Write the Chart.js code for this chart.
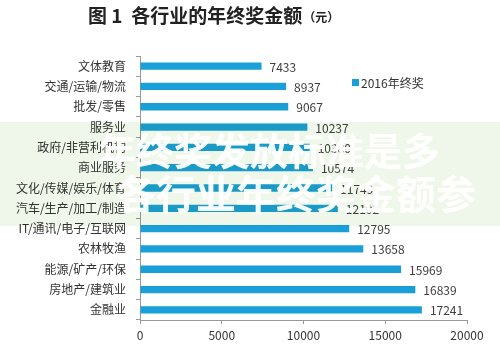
<!DOCTYPE html>
<html>
<head>
<meta charset="utf-8">
<script src="https://cdn.jsdelivr.net/npm/chart.js@4"></script>
<style>
  html, body { margin: 0; padding: 0; background: #fff; }
  #wrap { width: 500px; height: 350px; }
</style>
</head>
<body>
<div id="wrap"><canvas id="myChart" width="500" height="350"></canvas></div>
<script>
const industries = ["文体教育", "交通/运输/物流", "批发/零售", "服务业", "政府/非营利机构", "商业服务",
  "文化/传媒/娱乐/体育", "汽车/生产/加工/制造", "IT/通讯/电子/互联网", "农林牧渔", "能源/矿产/环保",
  "房地产/建筑业", "金融业"];
const bonus2016 = [7433, 8937, 9067, 10237, 10380, 10574, 11749, 12102, 12795, 13658, 15969, 16839, 17241];
const xTicks = [0, 5000, 10000, 15000, 20000];
const seriesName = "2016年终奖";
const titleMain = "图 1  各行业的年终奖金额";
const titleUnit = "（元）";
const bannerLines = ["年终奖发放标准是多", "各行业年终奖金额参"];

const cjk = '"Noto Sans CJK SC", "Noto Sans", sans-serif';
const barColor = "#1a9fd9";
const textColor = "#333";

// title, legend, value labels and the green banner
const decorations = {
  id: "decorations",
  afterDatasetsDraw(chart) {
    const ctx = chart.ctx;
    const meta = chart.getDatasetMeta(0);
    ctx.save();
    ctx.font = "12px " + cjk;
    ctx.fillStyle = "#404040";
    ctx.textAlign = "left";
    ctx.textBaseline = "middle";
    meta.data.forEach((bar, i) => {
      ctx.fillText(String(bonus2016[i]), bar.x + 8, bar.y + 1);
    });
    ctx.restore();
  },
  afterDraw(chart) {
    const ctx = chart.ctx;
    ctx.save();

    // title
    ctx.fillStyle = "#222";
    ctx.textBaseline = "middle";
    ctx.textAlign = "left";
    ctx.font = "bold 19px " + cjk;
    ctx.fillText(titleMain, 88, 16);
    const w = ctx.measureText(titleMain).width;
    ctx.font = "bold 12px " + cjk;
    ctx.fillText(titleUnit, 88 + w + 1, 17);

    // legend
    ctx.fillStyle = barColor;
    ctx.fillRect(352, 79, 7, 7);
    ctx.fillStyle = textColor;
    ctx.font = "12px " + cjk;
    ctx.fillText(seriesName, 361, 83);

    // banner: green tint that keeps dark text dark, then white lettering
    ctx.globalCompositeOperation = "multiply";
    ctx.fillStyle = "#eef7ea";
    ctx.fillRect(0, 122, 500, 104);
    ctx.globalCompositeOperation = "source-over";
    ctx.fillStyle = "rgba(255, 255, 255, 0.95)";
    ctx.font = "bold 38px " + cjk;
    ctx.textAlign = "right";
    ctx.fillText(bannerLines[0], 440, 151);
    ctx.font = "bold 40px " + cjk;
    ctx.fillText(bannerLines[1], 476, 194);
    ctx.restore();
  }
};

new Chart("myChart", {
  type: "bar",
  data: {
    labels: industries,
    datasets: [{
      label: seriesName,
      data: bonus2016,
      backgroundColor: barColor,
      barPercentage: 0.36,
      categoryPercentage: 1
    }]
  },
  options: {
    indexAxis: "y",
    responsive: false,
    animation: false,
    layout: { padding: { top: 56, right: 33, bottom: 0, left: 0 } },
    scales: {
      x: {
        min: 0,
        max: 20000,
        afterBuildTicks(scale) {
          scale.ticks = xTicks.map(v => ({ value: v }));
        },
        afterFit(scale) { scale.height = 30; },
        grid: { drawOnChartArea: false, drawTicks: true, tickLength: 4, color: "#999" },
        border: { color: "#999" },
        ticks: {
          color: textColor,
          font: { size: 12, family: cjk },
          padding: 4,
          maxRotation: 0,
          callback: v => String(v)
        }
      },
      y: {
        afterFit(scale) { scale.width = 140; },
        grid: { drawOnChartArea: false, drawTicks: true, tickLength: 4, offset: true, color: "#999" },
        border: { color: "#999" },
        ticks: { color: textColor, font: { size: 12, family: cjk }, padding: 10, autoSkip: false }
      }
    },
    plugins: {
      legend: { display: false },
      tooltip: { enabled: false }
    }
  },
  plugins: [decorations]
});
</script>
</body>
</html>
